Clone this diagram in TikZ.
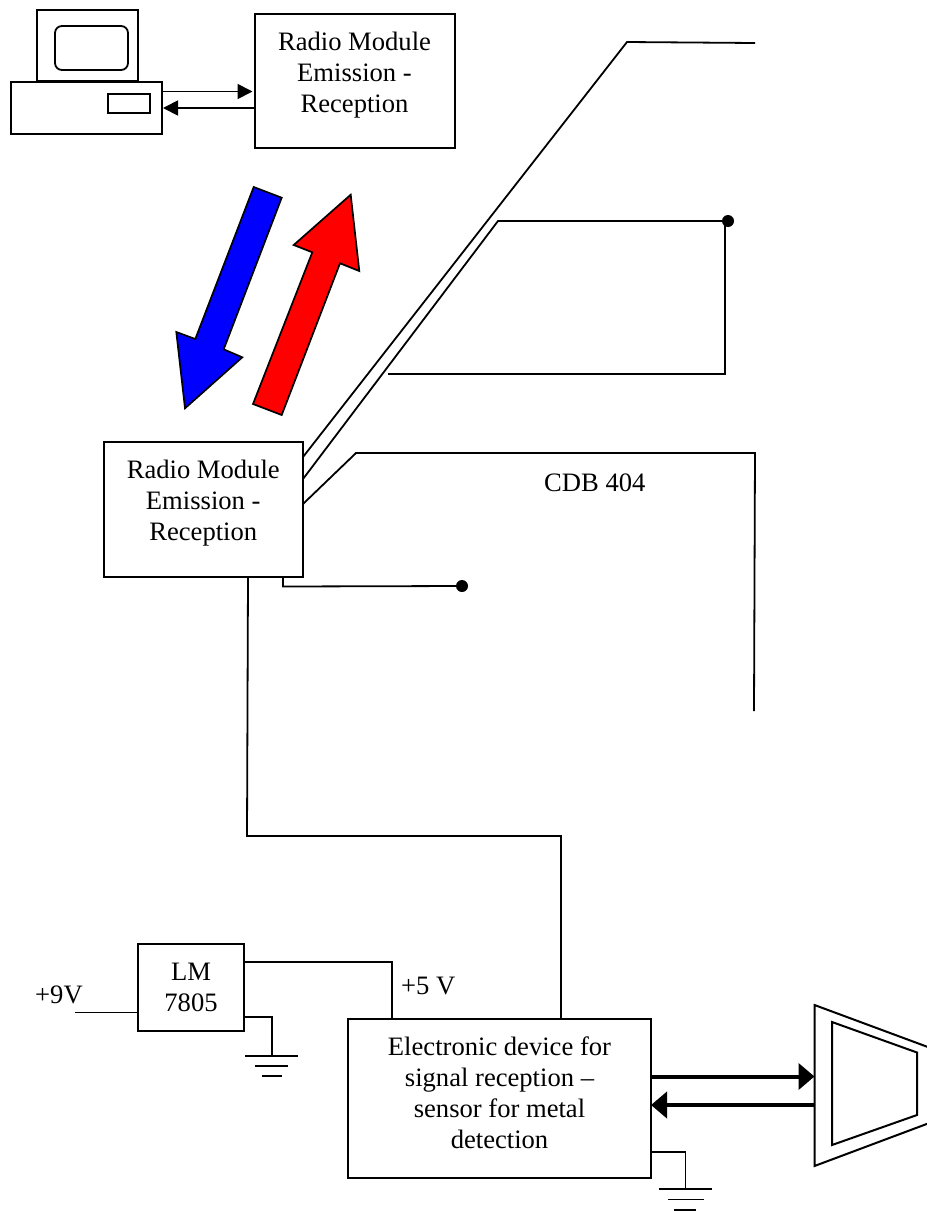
\documentclass[tikz,border=0pt]{standalone}
\usepackage{fontspec}
\setmainfont{Liberation Serif}
\usetikzlibrary{arrows.meta}
\newcommand{\boxtxt}[3]{\parbox[c][#2pt][t]{#1pt}{\centering\vspace*{14.7pt}\strut #3}}
\tikzset{
  wire/.style={draw=black,line width=1.8pt,line join=miter},
  blockbox/.style={draw=black,line width=2pt,inner sep=0pt,outer sep=0pt,anchor=north west,
     font=\fontsize{26.6pt}{31pt}\selectfont},
  plain/.style={draw=black,line width=2pt,inner sep=0pt,outer sep=0pt,anchor=north west},
  thinarrow/.style={wire,-{Triangle[length=15pt,width=15pt]}},
  thickarrow/.style={draw=black,line width=4pt,-{Triangle[length=16pt,width=26pt]}},
  dotnode/.style={circle,fill=black,inner sep=0pt,outer sep=0pt,minimum size=12pt},
  txt/.style={inner sep=0pt,anchor=base west,font=\fontsize{26.6pt}{31pt}\selectfont},
  bigarrow/.style={draw=black,line width=1.7pt,line join=miter}
}
\begin{document}
\begin{tikzpicture}[x=1pt,y=-1pt]
\useasboundingbox (0,0) rectangle (927,1211);
\clip (0,0) rectangle (927,1211);

% computer
\node[plain,minimum width=101pt,minimum height=71pt] (monitor) at (37,10) {};
\draw[line width=1.8pt,rounded corners=7pt] (55,26) rectangle (128,70);
\node[plain,minimum width=151pt,minimum height=52pt,fill=white] (pc) at (11,82) {};
\node[plain,minimum width=42.5pt,minimum height=19pt] (slot) at (107.5,94) {};

% upper radio module
\node[blockbox] (r1) at (254.5,14) {\boxtxt{200}{134}{Radio Module\\Emission -\\Reception}};
\coordinate (y1) at (0,91.5);
\coordinate (y2) at (0,108);
\draw[thinarrow] (pc.east |- y1) -- ([xshift=-2pt]r1.west |- y1);
\draw[thinarrow] (r1.west |- y2) -- ([xshift=1pt]pc.east |- y2);

% big arrows
\draw[bigarrow,fill={rgb,255:red,0;green,0;blue,255}]
  (253.7,187) -- (281.7,197.7) -- (223.7,349.3) -- (242.3,357.3) -- (185,408.3) -- (176.3,332) -- (195.3,339) -- cycle;
\draw[bigarrow,fill={rgb,255:red,255;green,0;blue,0}]
  (350.7,194.7) -- (359.3,271) -- (340,263.3) -- (281.7,415) -- (253,404) -- (312.3,252.3) -- (293.7,245) -- cycle;

% lower radio module
\node[blockbox] (r2) at (103.5,442) {\boxtxt{199.5}{134.5}{Radio Module\\Emission -\\Reception}};

% antenna traces
\coordinate (ya) at (0,457);
\coordinate (yb) at (0,479);
\coordinate (yc) at (0,504);
\coordinate (a1) at (627,42);
\coordinate (a2) at (755,43);
\coordinate (b1) at (498,221);
\coordinate (b2) at (725,221);
\coordinate (b3) at (725,374);
\coordinate (b4) at (388,374);
\coordinate (c1) at (356,453);
\coordinate (c2) at (755,453);
\coordinate (c3) at (754,711);
\node[dotnode] (d1) at (728,221) {};
\node[dotnode] (d2) at (462,586) {};
\draw[wire] (r2.east |- ya) -- (a1) -- (a2);
\draw[wire] (r2.east |- yb) -- (b1) -- (b2) -- (b3) -- (b4);
\draw[wire] (b2) -- (d1);
\draw[wire] (r2.east |- yc) -- (c1) -- (c2) -- (c3);
\coordinate (e0) at (283,577);
\coordinate (e1) at (283,586.5);
\draw[wire] (e0) -- (e1) -- (d2);
\node[txt] (cdb) at (544,491) {CDB 404};

% device
\node[blockbox] (dev) at (348,1019) {\boxtxt{303}{159}{Electronic device for\\signal reception --\\sensor for metal\\detection}};
\coordinate (f0) at (248,577);
\coordinate (f1) at (247,836);
\coordinate (f2) at (561,836);
\draw[wire] (f0) -- (f1) -- (f2) -- (f2 |- dev.north);

% regulator
\node[blockbox] (lm) at (138,944) {\boxtxt{106}{87}{LM\\7805}};
\node[txt] (nine) at (35,1003) {+9V};
\node[txt] (five) at (401,994) {+5 V};
\coordinate (n0) at (75,1012.5);
\draw[wire] (n0) -- (n0 -| lm.west);
\coordinate (g1) at (392,962);
\draw[wire] (lm.east |- g1) -- (g1) -- (g1 |- dev.north);

% ground 1
\coordinate (h1) at (272,1017);
\coordinate (h2) at (272,1056);
\draw[wire] (lm.east |- h1) -- (h1) -- (h2);
\draw[wire] (245,1056) -- (298,1056);
\draw[wire] (255,1066) -- (288,1066);
\draw[wire] (262,1076) -- (282,1076);

% horn
\draw[line width=2pt,line join=miter] (940,1051.5) -- (814.5,1005) -- (814.5,1166) -- (940,1119);
\draw[line width=2pt,line join=miter] (832,1022) -- (917,1052.5) -- (917,1115) -- (832,1145) -- cycle;
\coordinate (horn) at (814.5,1090);
\coordinate (k1) at (0,1076.5);
\coordinate (k2) at (0,1105);
\draw[thickarrow] (dev.east |- k1) -- (horn |- k1);
\draw[thickarrow] (horn |- k2) -- (dev.east |- k2);

% ground 2
\coordinate (m1) at (685.5,1152);
\coordinate (m2) at (685.5,1189);
\draw[wire] (dev.east |- m1) -- (m1) -- (m2);
\draw[wire] (658.5,1189) -- (711.5,1189);
\draw[wire] (668,1199.5) -- (704,1199.5);
\draw[wire] (674,1210) -- (696,1210);
\end{tikzpicture}
\end{document}
